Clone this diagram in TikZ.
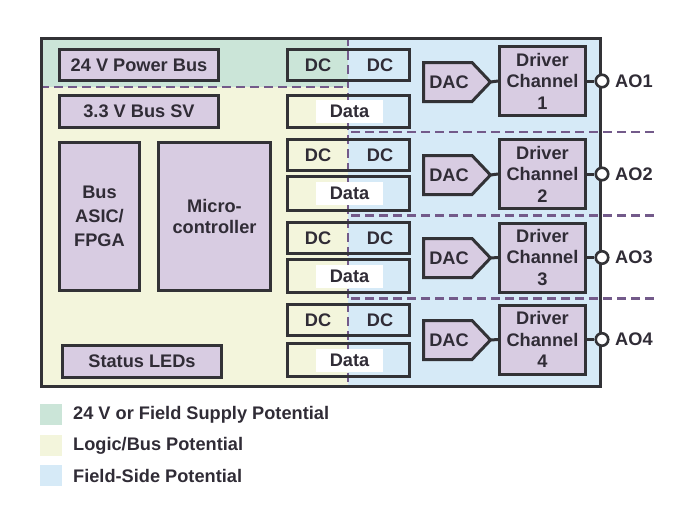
\documentclass[tikz,border=0pt]{standalone}
\usepackage{fontspec}
\setmainfont{Liberation Sans}
\definecolor{greenc}{RGB}{203,229,216}
\definecolor{yellowc}{RGB}{243,245,220}
\definecolor{bluec}{RGB}{214,234,247}
\definecolor{boxp}{RGB}{216,204,226}
\definecolor{dashc}{RGB}{115,90,138}
\definecolor{edge}{RGB}{50,50,54}
\definecolor{txt}{RGB}{48,44,54}
\begin{document}
\begin{tikzpicture}[x=1pt,y=-1pt,
  every node/.style={font=\fontsize{18.2}{21.5}\selectfont\bfseries, text=txt, inner sep=0pt},
  pbox/.style={draw=edge, line width=3pt, fill=boxp, align=center},
  obox/.style={draw=edge, line width=3pt},
  dline/.style={draw=dashc, line width=2.6pt, dash pattern=on 9pt off 5pt},
  conn/.style={draw=edge, line width=3pt},
  pent/.style={draw=edge, line width=3pt, fill=boxp, line join=miter},
  datalbl/.style={fill=white, minimum width=67pt, minimum height=23pt},
  portc/.style={circle, draw=edge, line width=2.6pt, fill=white, minimum size=12.5pt},
  lgsq/.style={minimum width=22pt, minimum height=21pt},
  lgtxt/.style={anchor=west}]
\useasboundingbox (0,0) rectangle (688,507);
% potential regions
\fill[greenc] (40,37) rectangle (348,87);
\fill[yellowc] (40,87) rectangle (348,387);
\fill[bluec] (348,37) rectangle (602,387);
% separation lines
\draw[dline] (40,87) -- (348,87);
\draw[dline] (348,37) -- (348,387);
\draw[dline] (351,132) -- (657,132);
\draw[dline] (351,215.5) -- (657,215.5);
\draw[dline] (351,298.5) -- (657,298.5);
% board outline
\node[obox, minimum width=559pt, minimum height=348pt] (board) at (321,212) {};
% logic side blocks
\node[pbox, minimum width=159pt, minimum height=31pt] (pwr) at (139,65) {24 V Power Bus};
\node[pbox, minimum width=159pt, minimum height=32pt] (sv) at (139,111.5) {3.3 V Bus SV};
\node[pbox, minimum width=80pt, minimum height=148pt, font=\fontsize{18.2}{24}\selectfont\bfseries] (asic) at (99.5,216.5) {Bus\\ASIC/\\FPGA};
\node[pbox, minimum width=112pt, minimum height=148pt] (mcu) at (214.5,216.5) {Micro-\\controller};
\node[pbox, minimum width=159pt, minimum height=32pt] (leds) at (142,361.5) {Status LEDs};
% isolation blocks
\foreach \i/\dc/\dch/\da/\dah in {1/65/31/111.5/32, 2/155.3/31/193.4/33.5, 3/237.9/31/276.3/33, 4/320/30.5/360/33.5}{
  \node[obox, minimum width=121.7pt, minimum height=\dch pt] (dcb\i) at (348.3,\dc) {};
  \node (dcl\i) at (318,\dc) {DC};
  \node (dcr\i) at (380,\dc) {DC};
  \node[obox, minimum width=121.7pt, minimum height=\dah pt] (dab\i) at (348.3,\da) {};
  \node[datalbl] (dal\i) at (349.5,\da) {Data};
}
% channels
\foreach \i/\c/\d in {1/82/81, 2/175/174, 3/258/257.5, 4/340/339.5}{
  \draw[pent] (423.5,\c-19.5) -- (472,\c-19.5) -- (490.5,\c) -- (472,\c+19.5) -- (423.5,\c+19.5) -- cycle;
  \node (dac\i) at (449,\c) {DAC};
  \coordinate (tip\i) at (490.5,\c);
  \node[pbox, minimum width=86pt, minimum height=69pt] (drv\i) at (542.5,\d) {Driver\\Channel\\\i};
  \draw[conn] (tip\i) -- (drv\i.west);
  \node[portc] (port\i) at (602,\d) {};
  \draw[conn] (drv\i.east) -- (port\i.west);
  \node[anchor=west] (ao\i) at (615,\d) {AO\i};
}
% legend
\node[lgsq, fill=greenc] (lg1) at (51,414.5) {};
\node[lgtxt] (lt1) at (73,414.5) {24 V or Field Supply Potential};
\node[lgsq, fill=yellowc] (lg2) at (51,445.5) {};
\node[lgtxt] (lt2) at (73,445.5) {Logic/Bus Potential};
\node[lgsq, fill=bluec] (lg3) at (51,475.5) {};
\node[lgtxt] (lt3) at (73,475.5) {Field-Side Potential};
\end{tikzpicture}
\end{document}
